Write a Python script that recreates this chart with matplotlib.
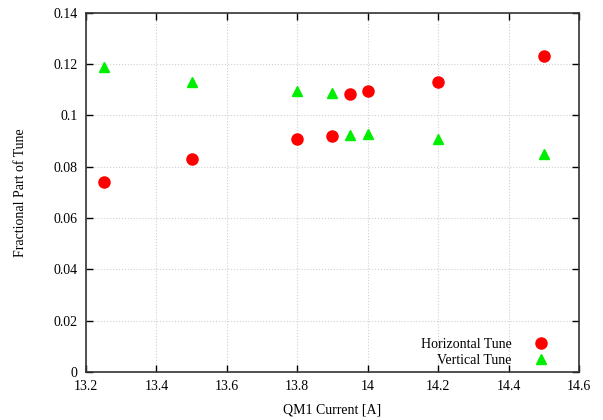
import matplotlib
matplotlib.use("Agg")
import matplotlib.pyplot as plt

current = [13.25, 13.5, 13.8, 13.9, 13.95, 14.0, 14.2, 14.5]
horizontal = [0.0740, 0.0831, 0.0908, 0.0920, 0.1085, 0.1096, 0.1131, 0.1233]
vertical = [0.1190, 0.1131, 0.1096, 0.1088, 0.0924, 0.0928, 0.0910, 0.0851]

plt.rcParams['font.family'] = ['Liberation Serif', 'DejaVu Serif']

fig = plt.figure(figsize=(6.03, 4.20), dpi=100)
ax = fig.add_axes([0.1426, 0.1143, 0.8176, 0.855])

ax.plot(current, horizontal, 'o', color='#ff0000', ms=8, mec='#ff0000', label='Horizontal Tune', zorder=3)
ax.plot(current, vertical, '^', color='#00ee00', ms=7, mec='#00ee00', label='Vertical Tune', zorder=3)

ax.set_xlim(13.2, 14.6)
ax.set_ylim(0, 0.14)
xt = [13.2, 13.4, 13.6, 13.8, 14.0, 14.2, 14.4, 14.6]
ax.set_xticks(xt)
ax.set_xticklabels(['13.2', '13.4', '13.6', '13.8', '14', '14.2', '14.4', '14.6'])
yt = [0, 0.02, 0.04, 0.06, 0.08, 0.1, 0.12, 0.14]
ax.set_yticks(yt)
ax.set_yticklabels(['0', '0.02', '0.04', '0.06', '0.08', '0.1', '0.12', '0.14'])
ax.tick_params(direction='in', top=True, right=True, length=5, width=1, labelsize=10, pad=6)
ax.grid(True, linestyle=':', color='#d0d0d0', linewidth=0.8)
for s in ax.spines.values():
    s.set_linewidth(1.2)
    s.set_color('#333333')

ax.set_xlabel('QM1 Current [A]', fontsize=10, labelpad=7)
ax.set_ylabel('Fractional Part of Tune', fontsize=10, labelpad=19)

ax.legend(loc='lower right', frameon=False, markerfirst=False, fontsize=10,
          handletextpad=1.1, labelspacing=0.2, borderaxespad=0.3,
          bbox_to_anchor=(0.97, -0.013))

fig.savefig('out.png', dpi=100)
